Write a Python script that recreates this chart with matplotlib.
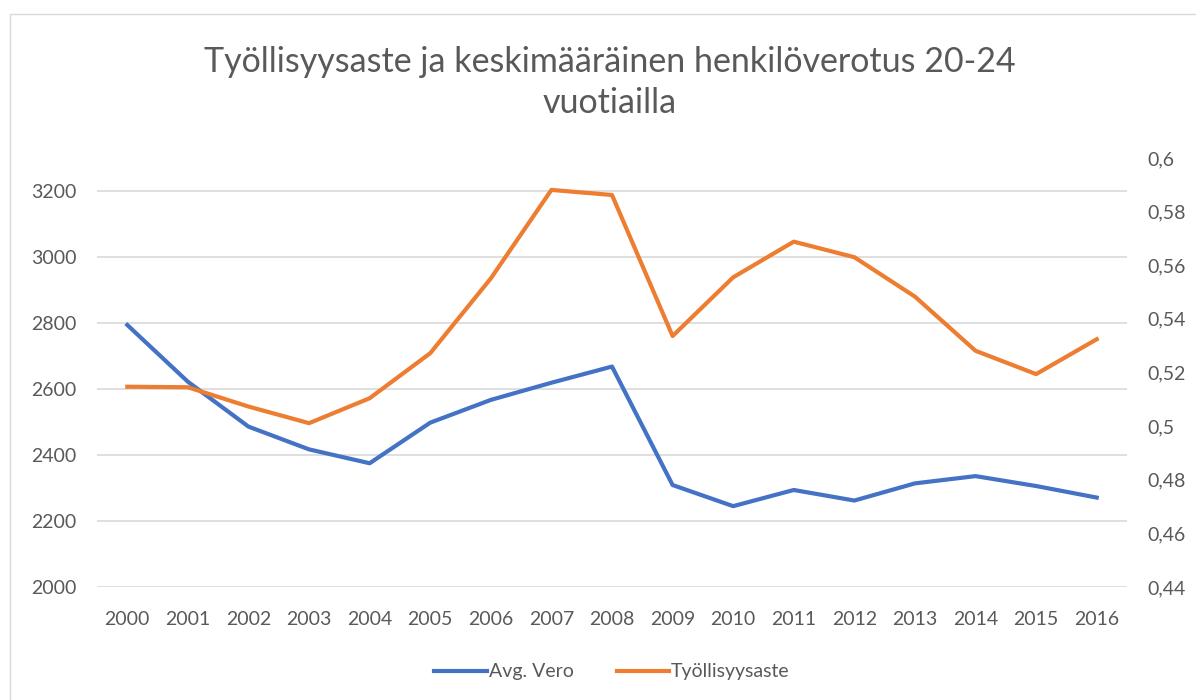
import matplotlib.pyplot as plt
import matplotlib.patches as patches
from matplotlib.ticker import FuncFormatter

# data
years = ['2000', '2001', '2002', '2003', '2004', '2005', '2006', '2007', '2008',
         '2009', '2010', '2011', '2012', '2013', '2014', '2015', '2016']
avg_vero = [2794, 2622, 2486, 2417, 2375, 2498, 2567, 2619, 2668,
            2309, 2245, 2294, 2262, 2314, 2336, 2306, 2271]
tyollisyys = [0.5147, 0.5145, 0.5073, 0.5011, 0.5104, 0.5272, 0.5551, 0.5881, 0.5862,
              0.5336, 0.5555, 0.5688, 0.5630, 0.5483, 0.5281, 0.5194, 0.5324]
left_ticks = [2000, 2200, 2400, 2600, 2800, 3000, 3200]
right_ticks = [0.44, 0.46, 0.48, 0.50, 0.52, 0.54, 0.56, 0.58, 0.60]

plt.rcParams['font.family'] = ['Lato', 'DejaVu Sans']
grey = '#595959'
blue = '#4472C4'
orange = '#ED7D31'

fig = plt.figure(figsize=(11.96, 7), dpi=100)
# light chart border
fig.patches.append(patches.Rectangle((10 / 1196, -0.01), 1.1, 1 - 14 / 700 + 0.01,
                                     transform=fig.transFigure, fill=False,
                                     edgecolor='#D9D9D9', lw=1))

ax = fig.add_axes([97 / 1196, 1 - 587 / 700, (1127 - 97) / 1196, (587 - 158) / 700])
x = range(len(years))
l1, = ax.plot(x, avg_vero, color=blue, lw=3, solid_joinstyle='round', label='Avg. Vero')
ax.set_ylim(2000, 3300)
ax.set_yticks(left_ticks)
ax.set_xlim(-0.5, len(years) - 0.5)
ax.set_xticks(list(x))
ax.set_xticklabels(years)
ax.grid(axis='y', color='#D9D9D9', lw=1.2)
ax.set_axisbelow(True)
for s in ax.spines.values():
    s.set_visible(False)
ax.tick_params(length=0, labelsize=14, labelcolor=grey)
ax.tick_params(axis='y', pad=15)
ax.tick_params(axis='x', pad=17)

ax2 = ax.twinx()
l2, = ax2.plot(x, tyollisyys, color=orange, lw=3, solid_joinstyle='round', label='Työllisyysaste')
ax2.set_ylim(0.44, 0.60)
ax2.set_yticks(right_ticks)
ax2.yaxis.set_major_formatter(FuncFormatter(lambda v, p: ('%.2f' % v).rstrip('0').rstrip('.').replace('.', ',')))
for s in ax2.spines.values():
    s.set_visible(False)
ax2.tick_params(length=0, labelsize=14, labelcolor=grey, pad=15)

fig.text(610 / 1196, 1 - 62 / 700, 'Työllisyysaste ja keskimääräinen henkilöverotus 20-24',
         ha='center', va='center', fontsize=24.5, color=grey)
fig.text(610 / 1196, 1 - 103 / 700, 'vuotiailla', ha='center', va='center', fontsize=24.5, color=grey)

fig.legend([l1, l2], ['Avg. Vero', 'Työllisyysaste'], loc='center',
           bbox_to_anchor=(612 / 1196, 1 - 672 / 700), ncol=2, frameon=False,
           fontsize=14, labelcolor=grey, handlelength=2.7, handletextpad=0.1,
           columnspacing=2.2)

fig.savefig('out.png', dpi=100)
